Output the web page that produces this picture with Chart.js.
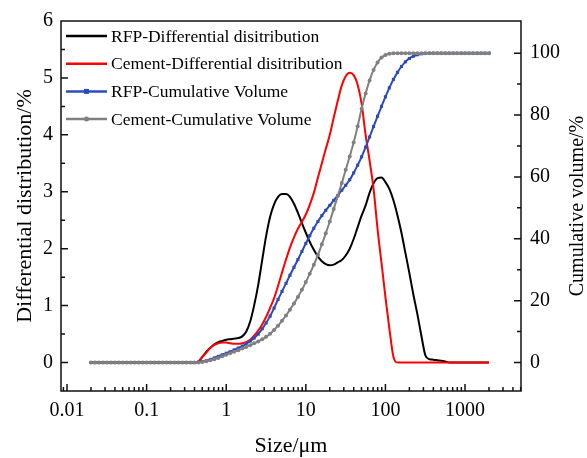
<!DOCTYPE html>
<html>
<head>
<meta charset="utf-8">
<script src="https://cdn.jsdelivr.net/npm/chart.js@4.4.1/dist/chart.umd.min.js"></script>
<style>
  html, body { margin: 0; padding: 0; background: #fff; }
  canvas { display: block; }
</style>
</head>
<body>
<canvas id="psd-chart" width="587" height="458"></canvas>
<script>
// particle size bins, um
var sizes = [0.02, 0.0224, 0.0252, 0.0283, 0.0317, 0.0356, 0.0399, 0.0448, 0.0502, 0.0564,
    0.0632, 0.0710, 0.0796, 0.0893, 0.1, 0.112, 0.126, 0.142, 0.159, 0.178,
    0.2, 0.224, 0.252, 0.283, 0.317, 0.356, 0.399, 0.448, 0.502, 0.564,
    0.632, 0.710, 0.796, 0.893, 1.0, 1.12, 1.26, 1.42, 1.59, 1.78,
    2.0, 2.24, 2.52, 2.83, 3.17, 3.56, 3.99, 4.48, 5.02, 5.64,
    6.32, 7.10, 7.96, 8.93, 10.0, 11.2, 12.6, 14.2, 15.9, 17.8,
    20.0, 22.4, 25.2, 28.3, 31.7, 35.6, 39.9, 44.8, 50.2, 56.4,
    63.2, 71.0, 79.6, 89.3, 100, 112, 126, 142, 159, 178,
    200, 224, 252, 283, 317, 356, 399, 448, 502, 564,
    632, 710, 796, 893, 1000, 1120, 1260, 1420, 1590, 1780, 2000];

var rfpDiff = [0, 0, 0, 0, 0, 0, 0, 0, 0, 0,
    0, 0, 0, 0, 0, 0, 0, 0, 0, 0,
    0, 0, 0, 0, 0, 0, 0, 0.02, 0.10, 0.19,
    0.26, 0.32, 0.36, 0.38, 0.40, 0.41, 0.42, 0.43, 0.46, 0.54,
    0.72, 1.00, 1.36, 1.80, 2.22, 2.56, 2.78, 2.91, 2.96, 2.96,
    2.91, 2.79, 2.63, 2.45, 2.28, 2.12, 1.98, 1.86, 1.78, 1.73,
    1.71, 1.72, 1.76, 1.80, 1.88, 2.00, 2.17, 2.38, 2.58, 2.76,
    2.98, 3.15, 3.24, 3.25, 3.17, 3.05, 2.85, 2.58, 2.28, 1.93,
    1.57, 1.20, 0.85, 0.47, 0.13, 0.06, 0.05, 0.04, 0.03, 0.02,
    0, 0, 0, 0, 0, 0, 0, 0, 0, 0, 0];

var cementDiff = [0, 0, 0, 0, 0, 0, 0, 0, 0, 0,
    0, 0, 0, 0, 0, 0, 0, 0, 0, 0,
    0, 0, 0, 0, 0, 0, 0, 0.02, 0.10, 0.18,
    0.26, 0.31, 0.34, 0.35, 0.35, 0.34, 0.33, 0.33, 0.34, 0.36,
    0.40, 0.47, 0.56, 0.67, 0.80, 0.96, 1.13, 1.35, 1.58, 1.81,
    2.02, 2.20, 2.35, 2.47, 2.60, 2.77, 2.98, 3.25, 3.50, 3.75,
    4.00, 4.30, 4.60, 4.87, 5.03, 5.09, 5.05, 4.88, 4.55, 4.00,
    3.55, 3.05, 2.35, 1.75, 1.15, 0.60, 0.10, 0, 0, 0,
    0, 0, 0, 0, 0, 0, 0, 0, 0, 0,
    0, 0, 0, 0, 0, 0, 0, 0, 0, 0, 0];

var rfpCum = [0, 0, 0, 0, 0, 0, 0, 0, 0, 0,
    0, 0, 0, 0, 0, 0, 0, 0, 0, 0,
    0, 0, 0, 0, 0, 0, 0, 0.1, 0.3, 0.6,
    1.0, 1.5, 2.0, 2.5, 3.0, 3.5, 4.1, 4.7, 5.3, 6.0,
    6.9, 7.9, 9.2, 10.9, 12.8, 15.0, 17.6, 20.4, 23.0, 25.6,
    28.2, 30.8, 33.3, 35.9, 38.5, 41.0, 43.4, 45.6, 47.5, 49.2,
    50.8, 52.4, 54.0, 55.7, 57.3, 59.1, 61.3, 63.8, 66.5, 69.6,
    72.9, 76.3, 79.6, 82.8, 85.9, 88.8, 91.5, 93.8, 95.7, 97.2,
    98.3, 99.0, 99.5, 99.8, 99.95, 100, 100, 100, 100, 100,
    100, 100, 100, 100, 100, 100, 100, 100, 100, 100, 100];

var cementCum = [0, 0, 0, 0, 0, 0, 0, 0, 0, 0,
    0, 0, 0, 0, 0, 0, 0, 0, 0, 0,
    0, 0, 0, 0, 0, 0, 0, 0.05, 0.2, 0.45,
    0.75, 1.1, 1.5, 2.0, 2.5, 3.0, 3.5, 4.0, 4.5, 5.0,
    5.6, 6.2, 6.8, 7.5, 8.3, 9.3, 10.5, 11.9, 13.5, 15.2,
    17.1, 19.1, 21.2, 23.5, 26.0, 28.7, 31.6, 34.8, 38.2, 41.8,
    45.6, 49.6, 53.8, 58.0, 62.3, 66.6, 71.1, 76.4, 82.0, 87.0,
    91.2, 94.6, 97.0, 98.6, 99.4, 99.8, 100, 100, 100, 100,
    100, 100, 100, 100, 100, 100, 100, 100, 100, 100,
    100, 100, 100, 100, 100, 100, 100, 100, 100, 100, 100];

var xTicks = [0.01, 0.1, 1, 10, 100, 1000];
var leftTicks = [0, 1, 2, 3, 4, 5, 6];
var rightTicks = [0, 20, 40, 60, 80, 100];

var serif = "'Liberation Serif', 'Times New Roman', serif";
Chart.defaults.font.family = serif;
Chart.defaults.color = '#000';

function toPoints(values) {
    return sizes.map(function (s, i) { return { x: s, y: values[i] }; });
}

// frame, inward ticks, legend and right axis title
var decorPlugin = {
    id: 'decor',
    afterDatasetsDraw: function (chart) {
        var ctx = chart.ctx;
        var area = chart.chartArea;
        var sx = chart.scales.x, sy = chart.scales.y, sy1 = chart.scales.y1;
        ctx.save();
        ctx.strokeStyle = '#111';
        ctx.lineWidth = 1.5;
        ctx.strokeRect(area.left, area.top, area.right - area.left, area.bottom - area.top);

        ctx.beginPath();
        // bottom axis
        for (var d = -3; d <= 3; d++) {
            for (var m = 1; m <= 9; m++) {
                var v = m * Math.pow(10, d);
                if (v < sx.min || v > sx.max) continue;
                var px = sx.getPixelForValue(v);
                var len = m === 1 ? 7 : 4;
                ctx.moveTo(px, area.bottom);
                ctx.lineTo(px, area.bottom - len);
            }
        }
        // left axis
        for (var i = 0; i <= 11; i++) {
            var val = i * 0.5;
            var py = sy.getPixelForValue(val);
            ctx.moveTo(area.left, py);
            ctx.lineTo(area.left + (i % 2 === 0 ? 7 : 4), py);
        }
        // right axis
        for (var j = 0; j <= 10; j++) {
            var rv = j * 10;
            var ry = sy1.getPixelForValue(rv);
            ctx.moveTo(area.right, ry);
            ctx.lineTo(area.right - (j % 2 === 0 ? 7 : 4), ry);
        }
        ctx.stroke();

        // legend
        ctx.font = '17.5px ' + serif;
        ctx.textBaseline = 'middle';
        ctx.textAlign = 'left';
        chart.data.datasets.forEach(function (ds, k) {
            var ly = area.top + 15 + k * 27.7;
            var x0 = area.left + 5, x1 = area.left + 46;
            ctx.strokeStyle = ds.borderColor;
            ctx.lineWidth = 2.5;
            ctx.beginPath();
            ctx.moveTo(x0, ly);
            ctx.lineTo(x1, ly);
            ctx.stroke();
            if (ds.pointRadius > 0) {
                ctx.fillStyle = ds.borderColor;
                var cx = (x0 + x1) / 2;
                if (ds.pointStyle === 'rect') {
                    ctx.fillRect(cx - 2.5, ly - 2.5, 5, 5);
                } else {
                    ctx.beginPath();
                    ctx.arc(cx, ly, 2.5, 0, Math.PI * 2);
                    ctx.fill();
                }
            }
            ctx.fillStyle = '#000';
            ctx.fillText(ds.label, area.left + 50, ly + 1);
        });

        // right axis title, reads bottom to top
        ctx.translate(578, (area.top + area.bottom) / 2);
        ctx.rotate(-Math.PI / 2);
        ctx.textAlign = 'center';
        ctx.font = '20px ' + serif;
        ctx.fillText('Cumulative volume/%', 0, 0);
        ctx.restore();
    }
};

var ctxPsd = document.getElementById('psd-chart').getContext('2d');

var dataPsd = {
    datasets: [{
        label: 'RFP-Differential disitribution',
        data: toPoints(rfpDiff),
        borderColor: '#000000',
        borderWidth: 2,
        pointRadius: 0,
        cubicInterpolationMode: 'monotone',
        yAxisID: 'y',
        order: 4
    }, {
        label: 'Cement-Differential disitribution',
        data: toPoints(cementDiff),
        borderColor: '#ff0000',
        borderWidth: 2,
        pointRadius: 0,
        cubicInterpolationMode: 'monotone',
        yAxisID: 'y',
        order: 3
    }, {
        label: 'RFP-Cumulative Volume',
        data: toPoints(rfpCum),
        borderColor: '#2b4cb8',
        backgroundColor: '#2b4cb8',
        borderWidth: 2,
        pointRadius: 2.2,
        pointStyle: 'rect',
        pointBorderWidth: 0,
        cubicInterpolationMode: 'monotone',
        yAxisID: 'y1',
        order: 2
    }, {
        label: 'Cement-Cumulative Volume',
        data: toPoints(cementCum),
        borderColor: '#808080',
        backgroundColor: '#808080',
        borderWidth: 2,
        pointRadius: 2,
        pointStyle: 'circle',
        pointBorderWidth: 0,
        cubicInterpolationMode: 'monotone',
        yAxisID: 'y1',
        order: 1
    }]
};

var optionPsd = {
    responsive: false,
    animation: false,
    layout: { padding: { top: 19, left: 0, right: 0, bottom: 0 } },
    plugins: {
        legend: { display: false },
        tooltip: { enabled: false }
    },
    scales: {
        x: {
            type: 'logarithmic',
            min: 0.0084,
            max: 5050,
            grid: { display: false, drawTicks: false },
            border: { display: false },
            afterBuildTicks: function (scale) {
                scale.ticks = xTicks.map(function (v) { return { value: v }; });
            },
            afterFit: function (scale) { scale.height = 67; },
            ticks: {
                font: { size: 20 },
                padding: 8,
                maxRotation: 0,
                autoSkip: false,
                callback: function (value) { return String(value); }
            },
            title: {
                display: true,
                text: 'Size/\u03bcm',
                font: { size: 22, lineHeight: 1 },
                padding: { top: 0, bottom: 1 }
            }
        },
        y: {
            position: 'left',
            min: -0.5,
            max: 6,
            grid: { display: false, drawTicks: false },
            border: { display: false },
            afterBuildTicks: function (scale) {
                scale.ticks = leftTicks.map(function (v) { return { value: v }; });
            },
            afterFit: function (scale) { scale.width = 61; },
            ticks: { font: { size: 20 }, padding: 8 },
            title: {
                display: true,
                text: 'Differential distribution/%',
                font: { size: 22, lineHeight: 1 },
                padding: { top: 14, bottom: 0 }
            }
        },
        y1: {
            position: 'right',
            min: -9.2,
            max: 110.4,
            grid: { display: false, drawTicks: false },
            border: { display: false },
            afterBuildTicks: function (scale) {
                scale.ticks = rightTicks.map(function (v) { return { value: v }; });
            },
            afterFit: function (scale) { scale.width = 66; },
            ticks: { font: { size: 20 }, padding: 9 }
        }
    }
};

new Chart(ctxPsd, { type: 'line', data: dataPsd, options: optionPsd, plugins: [decorPlugin] });
</script>
</body>
</html>
